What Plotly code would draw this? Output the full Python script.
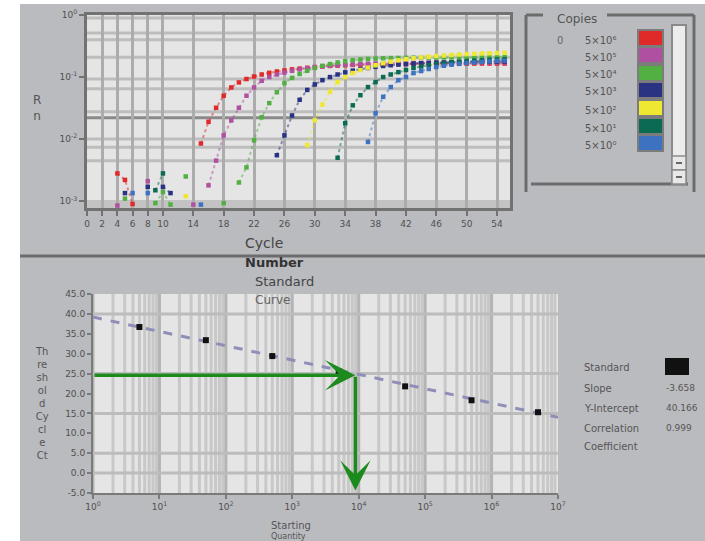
import plotly.graph_objects as go

W, H = 705, 541
def px(x): return x / W
def py(y): return 1 - y / H

# ---------------- amplification plot data ----------------
cycle_ticks = [0, 2, 4, 6, 8, 10, 14, 18, 22, 26, 30, 34, 38, 42, 46, 50, 54]
rn_ticks = [0.001, 0.01, 0.1, 1]
rn_tick_text = ["10<sup>-3</sup>", "10<sup>-2</sup>", "10<sup>-1</sup>", "10<sup>0</sup>"]
threshold = 0.022

legend_labels = ["5×10⁶", "5×10⁵", "5×10⁴", "5×10³", "5×10²", "5×10¹", "5×10⁰"]
colors = ["#e02a2a", "#b050a0", "#52b043", "#2a3282", "#eee833", "#0b6a52", "#3c72c0"]

red_base_cyc = [4, 5, 6]
red_base_val = [0.0028, 0.0022, 0.0009]
red_start = 15
red_amp = [0.0085, 0.019, 0.032, 0.05, 0.068, 0.082, 0.093, 0.102, 0.11, 0.117, 0.123,
           0.128, 0.133, 0.137, 0.141, 0.145, 0.148, 0.151, 0.153, 0.155, 0.157, 0.158,
           0.159, 0.16, 0.161, 0.161, 0.162, 0.162, 0.163, 0.163, 0.163, 0.164, 0.164,
           0.164, 0.164, 0.165, 0.165, 0.165, 0.165, 0.165, 0.165]

mag_base_cyc = [4, 8, 14]
mag_base_val = [0.00085, 0.0021, 0.00088]
mag_start = 16
mag_amp = [0.0018, 0.0045, 0.0115, 0.02, 0.032, 0.05, 0.068, 0.087, 0.1, 0.11, 0.118,
           0.126, 0.133, 0.139, 0.144, 0.148, 0.152, 0.155, 0.158, 0.16, 0.162, 0.164,
           0.165, 0.166, 0.167, 0.168, 0.168, 0.169, 0.169, 0.17, 0.17, 0.17, 0.171,
           0.171, 0.171, 0.172, 0.172, 0.172, 0.172, 0.172]

grn_base_cyc = [5, 9, 10, 11, 13, 18]
grn_base_val = [0.0011, 0.00093, 0.0014, 0.00088, 0.0025, 0.00093]
grn_start = 20
grn_amp = [0.002, 0.0035, 0.0096, 0.0225, 0.038, 0.057, 0.08, 0.097, 0.112, 0.126,
           0.14, 0.152, 0.162, 0.172, 0.18, 0.187, 0.192, 0.196, 0.199, 0.201, 0.202,
           0.203, 0.204, 0.205, 0.205, 0.206, 0.206, 0.207, 0.207, 0.208, 0.208, 0.208,
           0.209, 0.209, 0.209, 0.21]

nav_base_cyc = [5, 8, 10, 11]
nav_base_val = [0.00135, 0.0017, 0.0017, 0.00135]
nav_start = 25
nav_amp = [0.0055, 0.0115, 0.024, 0.043, 0.062, 0.076, 0.089, 0.1, 0.11, 0.119, 0.127,
           0.134, 0.14, 0.146, 0.151, 0.155, 0.159, 0.162, 0.165, 0.167, 0.169, 0.171,
           0.172, 0.173, 0.174, 0.175, 0.176, 0.176, 0.177, 0.177, 0.178]

yel_base_cyc = [13]
yel_base_val = [0.0012]
yel_start = 29
yel_amp = [0.008, 0.02, 0.036, 0.058, 0.083, 0.1, 0.116, 0.13, 0.142, 0.155, 0.167,
           0.177, 0.186, 0.194, 0.201, 0.207, 0.213, 0.218, 0.223, 0.227, 0.231, 0.234,
           0.237, 0.24, 0.242, 0.244, 0.246]

tea_base_cyc = [9, 10]
tea_base_val = [0.0015, 0.0028]
tea_start = 33
tea_amp = [0.005, 0.018, 0.035, 0.051, 0.069, 0.083, 0.1, 0.11, 0.12, 0.13, 0.14,
           0.148, 0.155, 0.162, 0.168, 0.173, 0.177, 0.181, 0.184, 0.187, 0.19, 0.192,
           0.194]

blu_base_cyc = [6, 8, 15]
blu_base_val = [0.00135, 0.00135, 0.00088]
blu_start = 37
blu_amp = [0.009, 0.026, 0.048, 0.069, 0.089, 0.1, 0.116, 0.125, 0.135, 0.145, 0.152,
           0.158, 0.163, 0.168, 0.172, 0.176, 0.179, 0.182, 0.184]

series = [
    (red_base_cyc, red_base_val, red_start, red_amp),
    (mag_base_cyc, mag_base_val, mag_start, mag_amp),
    (grn_base_cyc, grn_base_val, grn_start, grn_amp),
    (nav_base_cyc, nav_base_val, nav_start, nav_amp),
    (yel_base_cyc, yel_base_val, yel_start, yel_amp),
    (tea_base_cyc, tea_base_val, tea_start, tea_amp),
    (blu_base_cyc, blu_base_val, blu_start, blu_amp),
]

# ---------------- standard curve data ----------------
std_qty = [5, 50, 500, 5000, 5e4, 5e5, 5e6]
std_ct = [36.7, 33.4, 29.4, 25.6, 21.8, 18.3, 15.3]
fit_qty = [1, 1e7]
fit_ct = [39.2, 14.0]
unknown_qty = 8900
unknown_ct = 24.6
ct_ticks = [45, 40, 35, 30, 25, 20, 15, 10, 5, 0, -5]
ct_tick_text = ["45.0", "40.0", "35.0", "30.0", "25.0", "20.0", "15.0", "10.0", "5.0", "0.0", "-5.0"]
qty_ticks = [1, 10, 100, 1e3, 1e4, 1e5, 1e6, 1e7]
qty_tick_text = ["10<sup>%d</sup>" % i for i in range(8)]
stats_labels = ["Slope", "Y-Intercept", "Correlation"]
stats_values = ["-3.658", "40.166", "0.999"]

def rgba(hexc, a):
    h = hexc.lstrip("#")
    return "rgba(%d,%d,%d,%.2f)" % (int(h[0:2], 16), int(h[2:4], 16), int(h[4:6], 16), a)

def with_breaks(cyc, val):
    xs, ys = [], []
    for i, (c, v) in enumerate(zip(cyc, val)):
        if i > 0 and c - cyc[i - 1] > 1:
            xs.append(None); ys.append(None)
        xs.append(c); ys.append(v)
    return xs, ys

fig = go.Figure()

for (bc, bv, st, amp), col, name in zip(series, colors, legend_labels):
    bx, by = with_breaks(bc, bv)
    xs = bx + [None] + list(range(st, st + len(amp)))
    ys = by + [None] + list(amp)
    fig.add_trace(go.Scatter(
        x=xs, y=ys, mode="lines+markers", name=name, connectgaps=False,
        line=dict(color=rgba(col, 0.5), width=2, dash="dot"),
        marker=dict(symbol="square", size=4.5, color=col),
        xaxis="x", yaxis="y", showlegend=False))

fig.add_trace(go.Scatter(
    x=fit_qty, y=fit_ct, mode="lines", line=dict(color="#8e8eb8", width=3, dash="dash"),
    xaxis="x2", yaxis="y2", showlegend=False))
fig.add_trace(go.Scatter(
    x=std_qty, y=std_ct, mode="markers", marker=dict(symbol="square", size=6, color="#111111"),
    xaxis="x2", yaxis="y2", showlegend=False))

tick_font = dict(family="DejaVu Sans", size=9, color="#505050")
fig.update_layout(
    width=W, height=H, margin=dict(l=0, r=0, t=0, b=0, pad=0, autoexpand=False),
    showlegend=False,
    paper_bgcolor="#babbbf", plot_bgcolor="#e5e5e5",
    xaxis=dict(domain=[px(87), px(510)], range=[0, 55.7], tickvals=cycle_ticks,
               showgrid=True, gridcolor="#acacac", gridwidth=3, zeroline=False,
               showline=True, linecolor="#727272", linewidth=3, mirror=True,
               ticks="outside", ticklen=5, tickcolor="#727272", tickwidth=2,
               tickfont=tick_font, anchor="y", automargin=False),
    yaxis=dict(domain=[py(208), py(15)], type="log", range=[-3.11, 0], tickvals=rn_ticks,
               ticktext=rn_tick_text, showgrid=False, zeroline=False,
               showline=True, linecolor="#727272", linewidth=3, mirror=True,
               ticks="outside", ticklen=5, tickcolor="#727272", tickwidth=2,
               tickfont=tick_font, anchor="x", automargin=False),
    xaxis2=dict(domain=[px(93), px(558)], type="log", range=[0, 7], tickvals=qty_ticks,
                ticktext=qty_tick_text, showgrid=False, zeroline=False,
                showline=True, linecolor="#7a7a7a", linewidth=2,
                ticks="outside", ticklen=4, tickcolor="#7a7a7a", tickwidth=2,
                tickfont=tick_font, anchor="y2", automargin=False),
    yaxis2=dict(domain=[py(493), py(294)], range=[-5, 45], tickvals=ct_ticks,
                ticktext=ct_tick_text, showgrid=False, zeroline=False,
                showline=True, linecolor="#7a7a7a", linewidth=2,
                ticks="outside", ticklen=4, tickcolor="#7a7a7a", tickwidth=2,
                tickfont=tick_font, anchor="x2", automargin=False),
)

shapes = []
# white margins
shapes.append(dict(type="rect", xref="paper", yref="paper", x0=0, x1=px(20), y0=0, y1=1,
                   fillcolor="white", line=dict(width=0), layer="below"))
shapes.append(dict(type="rect", xref="paper", yref="paper", x0=0, x1=1, y0=py(4), y1=1,
                   fillcolor="white", line=dict(width=0), layer="below"))
# top plot horizontal grid lines
for g in [-0.05, -0.29, -0.40, -0.68, -1.03, -1.19, -1.56, -2.0, -2.13, -2.35]:
    shapes.append(dict(type="line", xref="x", yref="y", x0=0, x1=55.7, y0=10 ** g, y1=10 ** g,
                       line=dict(color="#bdbdbd", width=3), layer="below"))
shapes.append(dict(type="rect", xref="x", yref="y", x0=0, x1=55.7, y0=10 ** -3.11, y1=10 ** -2.98,
                   fillcolor="#c3c3c3", line=dict(width=0), layer="below"))
# threshold line
shapes.append(dict(type="line", xref="x", yref="y", x0=0, x1=55.7, y0=threshold, y1=threshold,
                   line=dict(color="#8a8a8a", width=3), layer="below"))
# separator
shapes.append(dict(type="line", xref="paper", yref="paper", x0=px(20), x1=1, y0=py(256), y1=py(256),
                   line=dict(color="#6c6c6c", width=3)))
# bottom plot grid: minor log lines
for d in range(7):
    for k in range(1, 10):
        v = k * 10 ** d
        shapes.append(dict(type="line", xref="x2", yref="y2", x0=v, x1=v, y0=-5, y1=45,
                           line=dict(color="#b4b4b4" if k == 1 else "#c8c8c8", width=3),
                           layer="below"))
for c in [40, 25, 15, 5, 0]:
    shapes.append(dict(type="line", xref="x2", yref="y2", x0=1, x1=1e7, y0=c, y1=c,
                       line=dict(color="#bcbcbc", width=3), layer="below"))
# legend panel frame
lc = "#6c6c6c"
for (x0, y0, x1, y1) in [(526, 15, 526, 192), (526, 15, 543, 15), (607, 15, 694, 15),
                         (694, 15, 694, 192), (531, 184, 688, 184)]:
    shapes.append(dict(type="line", xref="paper", yref="paper", x0=px(x0), x1=px(x1),
                       y0=py(y0), y1=py(y1), line=dict(color=lc, width=3)))
# scrollbar
shapes.append(dict(type="rect", xref="paper", yref="paper", x0=px(672), x1=px(686), y0=py(184), y1=py(25),
                   fillcolor="#ececec", line=dict(color="#8a8a8a", width=2)))
for (y0, y1) in [(156, 170), (170, 184)]:
    shapes.append(dict(type="rect", xref="paper", yref="paper", x0=px(672), x1=px(686), y0=py(y1), y1=py(y0),
                       fillcolor="#e8e8e8", line=dict(color="#8a8a8a", width=1.5)))
    shapes.append(dict(type="line", xref="paper", yref="paper", x0=px(676), x1=px(682),
                       y0=py((y0 + y1) / 2), y1=py((y0 + y1) / 2), line=dict(color="#666", width=2)))
# legend swatches
row_y = [38, 55, 73, 90, 108, 126, 143]
for c, yc in zip(colors, row_y):
    shapes.append(dict(type="rect", xref="paper", yref="paper", x0=px(638), x1=px(663),
                       y0=py(yc + 8), y1=py(yc - 8), fillcolor=c, line=dict(color="#7c7c7c", width=2)))
# standard swatch
shapes.append(dict(type="rect", xref="paper", yref="paper", x0=px(665), x1=px(689),
                   y0=py(375), y1=py(358), fillcolor="#111111", line=dict(width=0)))
fig.update_layout(shapes=shapes)

ann = []
def text(x, y, s, size=10, color="#505050", anchor="left", bold=False):
    ann.append(dict(xref="paper", yref="paper", x=px(x), y=py(y), text=("<b>%s</b>" % s) if bold else s,
                    showarrow=False, xanchor=anchor, yanchor="middle", borderpad=0,
                    font=dict(family="DejaVu Sans", size=size, color=color)))

text(556, 19, "Copies", 12, "#555")
text(556, 41, "0", 10, "#666")
for lab, yc in zip(legend_labels, row_y):
    text(584, yc + 2, lab, 10, "#555")
text(37, 108, "R<br>n", 12, "#555", "center")
text(244, 243, "Cycle", 14, "#444")
text(244, 263, "Number", 13, "#333", bold=True)
text(254, 281, "Standard", 13, "#444")
text(254, 300, "Curve", 12, "#666")
text(42, 403, "Th<br>re<br>sh<br>ol<br>d<br>Cy<br>cl<br>e<br>Ct", 10, "#555", "center")
text(270, 525, "Starting", 10, "#555")
text(270, 536, "Quantity", 8, "#555")
text(583, 367, "Standard", 10, "#555")
for lab, val, yc in zip(stats_labels, stats_values, [388, 408, 428]):
    text(583, yc, lab, 10, "#555")
    text(665, yc, val, 9, "#555")
text(583, 446, "Coefficient", 10, "#555")

green = "#1c8a1c"
ann.append(dict(xref="x2", yref="y2", axref="x2", ayref="y2",
                x=3.95, y=unknown_ct, ax=0, ay=unknown_ct, text="", showarrow=True,
                arrowhead=3, arrowsize=1.45, arrowwidth=3.5, arrowcolor=green, standoff=0))
ann.append(dict(xref="x2", yref="y2", axref="x2", ayref="y2",
                x=3.95, y=-4.4, ax=3.95, ay=unknown_ct, text="", showarrow=True,
                arrowhead=3, arrowsize=1.45, arrowwidth=3.5, arrowcolor=green, standoff=0))
fig.update_layout(annotations=ann)

fig.write_html("out.html")
